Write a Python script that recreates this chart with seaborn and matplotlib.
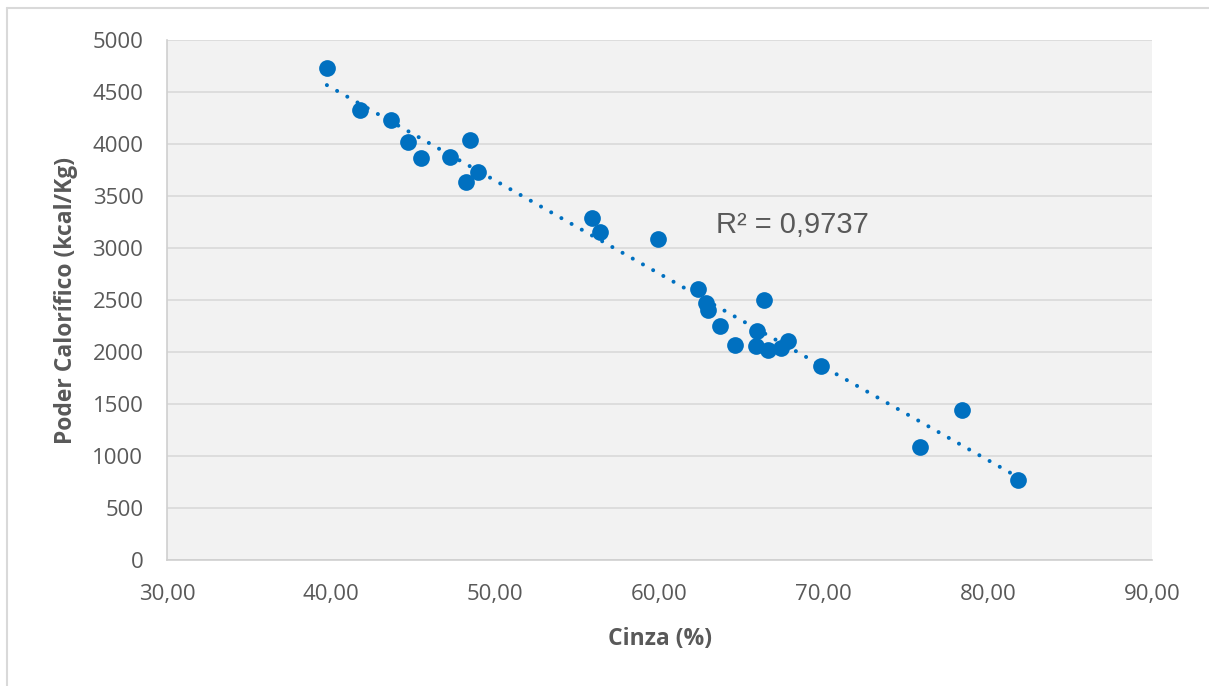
import numpy as np
import pandas as pd
import matplotlib
matplotlib.use("Agg")
import matplotlib.pyplot as plt
import seaborn as sns
from matplotlib.ticker import FuncFormatter, MultipleLocator

# Data
cinza = [39.74, 41.75, 43.64, 44.68, 45.47, 47.24, 48.45, 48.21, 48.94,
         55.88, 56.37, 59.90, 62.34, 62.83, 62.95, 63.68, 64.59, 66.36,
         65.93, 65.87, 66.60, 67.39, 67.82, 69.83, 75.86, 78.42, 81.83]
poder = [4731, 4327, 4231, 4019, 3865, 3875, 4038, 3635, 3731,
         3288, 3154, 3087, 2606, 2471, 2404, 2250, 2067, 2500,
         2202, 2058, 2019, 2038, 2106, 1865, 1087, 1442, 769]
r2_text = "R² = 0,9737"
x_label = "Cinza (%)"
y_label = "Poder Calorífico (kcal/Kg)"

df = pd.DataFrame({"cinza": cinza, "poder": poder})

sns.set_theme(style="white")
plt.rcParams['font.family'] = ['Open Sans', 'DejaVu Sans']

BLUE = "#0070C0"
GRAY_TXT = "#595959"

fig = plt.figure(figsize=(12.09, 6.86), dpi=100)
ax = fig.add_axes([167/1209, 1-560/686, (1152-167)/1209, (560-40)/686])
ax.set_facecolor("#F2F2F2")

# outer chart border (only left/top visible in the crop)
fig.add_artist(plt.Line2D([7/1209, 7/1209], [0, 1-8/686], transform=fig.transFigure,
                          color="#D9D9D9", lw=1.5))
fig.add_artist(plt.Line2D([7/1209, 1], [1-8/686, 1-8/686], transform=fig.transFigure,
                          color="#D9D9D9", lw=1.5))

sns.regplot(data=df, x="cinza", y="poder", ax=ax, scatter=False, ci=None,
            truncate=True, color=BLUE,
            line_kws=dict(lw=2.9, linestyle=(0, (0.01, 2.9)),
                          dash_capstyle="round", zorder=2))
sns.scatterplot(data=df, x="cinza", y="poder", ax=ax, color=BLUE, s=145,
                edgecolor=BLUE, linewidth=0, zorder=3)

ax.set_xlim(30, 90)
ax.set_ylim(0, 5000)
ax.xaxis.set_major_locator(MultipleLocator(10))
ax.yaxis.set_major_locator(MultipleLocator(500))
ax.xaxis.set_major_formatter(FuncFormatter(lambda v, p: f"{v:.2f}".replace(".", ",")))
ax.yaxis.set_major_formatter(FuncFormatter(lambda v, p: f"{int(v)}"))
ax.grid(axis="y", color="#D9D9D9", lw=1.2)
ax.set_axisbelow(True)
for s in ["top", "right"]:
    ax.spines[s].set_visible(False)
for s in ["bottom", "left"]:
    ax.spines[s].set_color("#CFCFCF")
    ax.spines[s].set_linewidth(1.2)
ax.tick_params(axis="both", length=0, labelsize=16, colors=GRAY_TXT)
ax.tick_params(axis="x", pad=17)
ax.tick_params(axis="y", pad=17)

ax.set_xlabel(x_label, fontsize=16.5, fontweight="bold", color=GRAY_TXT, labelpad=16)
ax.set_ylabel(y_label, fontsize=16.5, fontweight="bold", color=GRAY_TXT, labelpad=10)

ax.text(63.43, 3221, r2_text, fontsize=21, color=GRAY_TXT, ha="left", va="center",
        family=["Liberation Sans", "DejaVu Sans"])

fig.savefig("out.png", dpi=100)
